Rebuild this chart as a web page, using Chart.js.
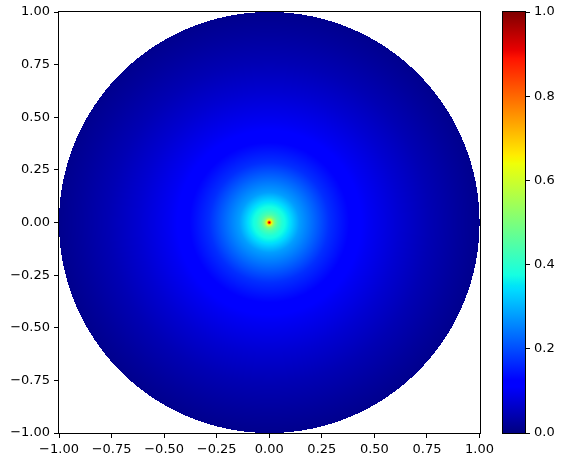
<!DOCTYPE html>
<html>
<head>
<meta charset="utf-8">
<script src="https://cdn.jsdelivr.net/npm/chart.js@4/dist/chart.umd.min.js"></script>
<style>
  body { margin: 0; background: #fff; }
  #wrap { position: relative; width: 561px; height: 464px; }
  #main { position: absolute; left: 0; top: 0; width: 498px; height: 464px; }
  #bar { position: absolute; left: 495px; top: 0; width: 66px; height: 464px; }
</style>
</head>
<body>
<div id="wrap">
  <div id="main"><canvas id="fieldChart"></canvas></div>
  <div id="bar"><canvas id="barChart"></canvas></div>
</div>
<script>
// radial profile: distance from centre -> value
const radii = [0, 0.005, 0.0095, 0.014, 0.019, 0.024, 0.038, 0.062, 0.095, 0.143, 0.214, 0.285, 0.38, 0.475, 0.62, 0.76, 0.9, 1.0];
const values = [1.0, 0.85, 0.7, 0.6, 0.55, 0.5, 0.44, 0.39, 0.35, 0.28, 0.225, 0.17, 0.125, 0.1, 0.07, 0.045, 0.025, 0.012];

const axisTicks = [-1, -0.75, -0.5, -0.25, 0, 0.25, 0.5, 0.75, 1];
const barTicks = [0, 0.2, 0.4, 0.6, 0.8, 1.0];

// matplotlib "jet"
const jetRed = [[0, 0], [0.35, 0], [0.66, 1], [0.89, 1], [1, 0.5]];
const jetGreen = [[0, 0], [0.125, 0], [0.375, 1], [0.64, 1], [0.91, 0], [1, 0]];
const jetBlue = [[0, 0.5], [0.11, 1], [0.34, 1], [0.65, 0], [1, 0]];

Chart.defaults.font.family = "'DejaVu Sans'";
Chart.defaults.font.size = 13;
Chart.defaults.color = "#000";

function lerp(pts, v) {
  if (v <= pts[0][0]) return pts[0][1];
  for (let i = 1; i < pts.length; i++) {
    if (v <= pts[i][0]) {
      const t = (v - pts[i - 1][0]) / (pts[i][0] - pts[i - 1][0]);
      return pts[i - 1][1] + t * (pts[i][1] - pts[i - 1][1]);
    }
  }
  return pts[pts.length - 1][1];
}

function jet(v) {
  return [lerp(jetRed, v), lerp(jetGreen, v), lerp(jetBlue, v)];
}

const profile = radii.map((r, i) => [r, values[i]]);

function fmt(digits) {
  return (v) => (v < 0 ? "\u2212" : "") + Math.abs(v).toFixed(digits);
}

function frame(chart) {
  const { ctx, chartArea: a } = chart;
  ctx.save();
  ctx.strokeStyle = "#000";
  ctx.lineWidth = 1;
  ctx.strokeRect(Math.round(a.left) - 0.5, Math.round(a.top) - 0.5,
    Math.round(a.right - a.left) + 1, Math.round(a.bottom - a.top) + 1);
  ctx.restore();
}

const fieldPlugin = {
  id: "field",
  beforeDatasetsDraw(chart) {
    const { ctx, chartArea: a, scales: { x, y } } = chart;
    const left = Math.round(a.left), top = Math.round(a.top);
    const w = Math.round(a.right) - left, h = Math.round(a.bottom) - top;
    const off = document.createElement("canvas");
    off.width = w;
    off.height = h;
    const octx = off.getContext("2d");
    const img = octx.createImageData(w, h);
    const rMax = radii[radii.length - 1];
    for (let j = 0; j < h; j++) {
      const yv = y.getValueForPixel(top + j + 0.5);
      for (let i = 0; i < w; i++) {
        const xv = x.getValueForPixel(left + i + 0.5);
        const r = Math.hypot(xv, yv);
        if (r > rMax) continue;
        const c = jet(lerp(profile, r));
        const k = (j * w + i) * 4;
        img.data[k] = Math.round(c[0] * 255);
        img.data[k + 1] = Math.round(c[1] * 255);
        img.data[k + 2] = Math.round(c[2] * 255);
        img.data[k + 3] = 255;
      }
    }
    octx.putImageData(img, 0, 0);
    ctx.drawImage(off, left, top);
  },
  afterDraw: frame,
};

const colorbarPlugin = {
  id: "colorbar",
  beforeDatasetsDraw(chart) {
    const { ctx, chartArea: a, scales: { y } } = chart;
    const g = ctx.createLinearGradient(0, y.getPixelForValue(0), 0, y.getPixelForValue(1));
    const stops = [...new Set([...jetRed, ...jetGreen, ...jetBlue].map((p) => p[0]))].sort((p, q) => p - q);
    stops.forEach((s) => {
      const c = jet(s).map((v) => Math.round(v * 255));
      g.addColorStop(s, `rgb(${c[0]},${c[1]},${c[2]})`);
    });
    ctx.fillStyle = g;
    ctx.fillRect(a.left, a.top, a.right - a.left, a.bottom - a.top);
  },
  afterDraw: frame,
};

function axis(extra) {
  return Object.assign({
    type: "linear",
    min: -1,
    max: 1,
    afterBuildTicks: (s) => { s.ticks = axisTicks.map((v) => ({ value: v })); },
    ticks: { callback: fmt(2), padding: 4, autoSkip: false, maxRotation: 0 },
    grid: { drawOnChartArea: false, tickLength: 5, color: "#000" },
    border: { display: false },
  }, extra);
}

new Chart(document.getElementById("fieldChart"), {
  type: "scatter",
  data: { datasets: [{ data: [] }] },
  options: {
    responsive: true,
    maintainAspectRatio: false,
    animation: false,
    layout: { padding: { top: 12, right: 15, left: 0, bottom: 0 } },
    plugins: { legend: { display: false }, tooltip: { enabled: false } },
    scales: {
      x: axis({ afterFit: (s) => { s.height = 31; } }),
      y: axis({ afterFit: (s) => { s.width = 59; } }),
    },
  },
  plugins: [fieldPlugin],
});

new Chart(document.getElementById("barChart"), {
  type: "scatter",
  data: { datasets: [{ data: [] }] },
  options: {
    responsive: true,
    maintainAspectRatio: false,
    animation: false,
    layout: { padding: { top: 12, right: 0, left: 8, bottom: 31 } },
    plugins: { legend: { display: false }, tooltip: { enabled: false } },
    scales: {
      x: { display: false, min: 0, max: 1 },
      y: {
        type: "linear",
        position: "right",
        min: 0,
        max: 1,
        afterBuildTicks: (s) => { s.ticks = barTicks.map((v) => ({ value: v })); },
        afterFit: (s) => { s.width = 36; },
        ticks: { callback: fmt(1), padding: 4 },
        grid: { drawOnChartArea: false, tickLength: 5, color: "#000" },
        border: { display: false },
      },
    },
  },
  plugins: [colorbarPlugin],
});
</script>
</body>
</html>
